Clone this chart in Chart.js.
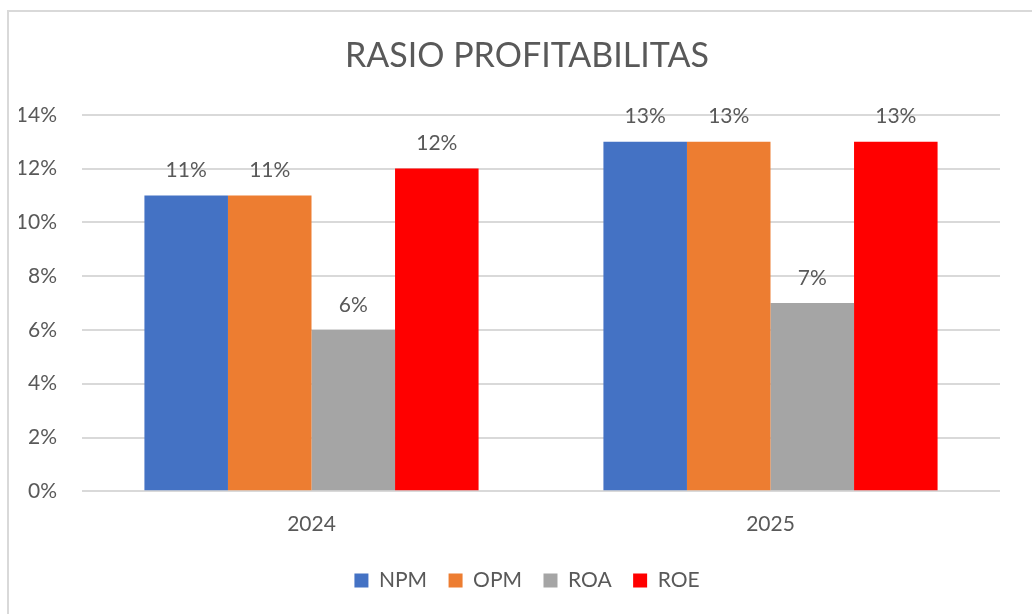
<!DOCTYPE html>
<html>
<head>
<meta charset="utf-8">
<script src="https://cdn.jsdelivr.net/npm/chart.js@4/dist/chart.umd.min.js"></script>
<style>
  html, body { margin: 0; padding: 0; background: #fff; overflow: hidden; }
  #box {
    position: absolute; left: 7px; top: 10px;
    border-left: 2px solid #d9d9d9; border-top: 2px solid #d9d9d9;
    width: 1036px; height: 610px;
  }
</style>
</head>
<body>
<div id="box"><canvas id="chart" width="1036" height="602"></canvas></div>
<script>
// Rasio profitabilitas per tahun
const years = ["2024", "2025"];
const npm = [11, 13];
const opm = [11, 13];
const roa = [6, 7];
const roe = [12, 13];
const yTicks = [0, 2, 4, 6, 8, 10, 12, 14];

const textColor = "#595959";
const fontFamily = "Lato, 'Open Sans', sans-serif";

// label nilai di atas batang
const valueLabels = {
  id: "valueLabels",
  afterDatasetsDraw(chart) {
    const ctx = chart.ctx;
    ctx.save();
    ctx.font = `21px ${fontFamily}`;
    ctx.fillStyle = textColor;
    ctx.textAlign = "center";
    ctx.textBaseline = "middle";
    chart.data.datasets.forEach((ds, i) => {
      chart.getDatasetMeta(i).data.forEach((bar, j) => {
        ctx.fillText(ds.data[j] + "%", bar.x, bar.y - 25);
      });
    });
    ctx.restore();
  },
};

const data = {
  labels: years,
  datasets: [
    { label: "NPM", data: npm, backgroundColor: "#4472c4" },
    { label: "OPM", data: opm, backgroundColor: "#ed7d31" },
    { label: "ROA", data: roa, backgroundColor: "#a5a5a5" },
    { label: "ROE", data: roe, backgroundColor: "#ff0000" },
  ],
};

const config = {
  type: "bar",
  data,
  options: {
    responsive: false,
    animation: false,
    categoryPercentage: 0.728,
    barPercentage: 1,
    layout: { padding: { left: 10, right: 10, top: 0, bottom: 13 } },
    scales: {
      x: {
        grid: { display: false },
        border: { display: false },
        ticks: { color: textColor, font: { family: fontFamily, size: 21 }, padding: 12 },
      },
      y: {
        min: 0,
        max: 14,
        afterBuildTicks: (s) => { s.ticks = yTicks.map((v) => ({ value: v })); },
        afterFit: (s) => { s.width = 63; },
        grid: { color: "#d9d9d9", lineWidth: 2, drawTicks: false },
        border: { display: false },
        ticks: {
          color: textColor,
          padding: 25,
          font: { family: fontFamily, size: 21 },
          callback: (v) => v + "%",
        },
      },
      // ruang kosong di kanan supaya judul & legenda di tengah
      yRight: {
        position: "right",
        afterFit: (s) => { s.width = 35; },
        grid: { display: false },
        border: { display: false },
        ticks: { display: false },
      },
    },
    plugins: {
      title: {
        display: true,
        text: "RASIO PROFITABILITAS",
        color: textColor,
        font: { family: fontFamily, size: 34, weight: "normal" },
        padding: { top: 24, bottom: 38 },
      },
      legend: {
        position: "bottom",
        labels: {
          color: textColor,
          font: { family: fontFamily, size: 21 },
          boxWidth: 14,
          boxHeight: 14,
          padding: 21.5,
        },
      },
      tooltip: { enabled: false },
    },
  },
  plugins: [valueLabels],
};

const ctx = document.querySelector("#chart").getContext("2d");
const chart = new Chart(ctx, config);
</script>
</body>
</html>
